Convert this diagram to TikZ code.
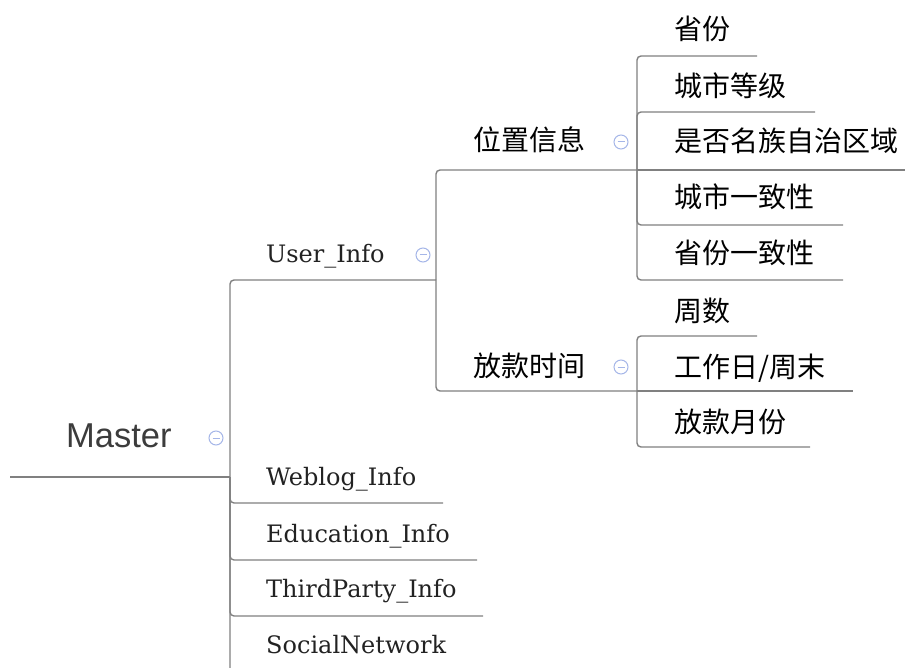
\documentclass[tikz,border=0pt]{standalone}
\usepackage{fontspec}
\newfontfamily\cjk{Noto Sans CJK SC}
\newfontfamily\slab{DejaVu Serif}
\newfontfamily\msans{Liberation Sans}
\definecolor{linegray}{RGB}{128,128,128}
\definecolor{iconblue}{RGB}{165,182,232}
\definecolor{textdark}{RGB}{34,34,34}
\definecolor{rootgray}{RGB}{60,60,60}
\begin{document}
\begin{tikzpicture}[x=1pt,y=-1pt,
  branch/.style={draw=linegray, line width=1.4pt, rounded corners=4pt},
  rootnode/.style={anchor=base west, inner sep=0pt, font=\msans\fontsize{34.5}{34.5}\selectfont, text=rootgray},
  lone/.style={anchor=base west, inner sep=0pt, font=\slab\fontsize{24}{24}\selectfont, text=textdark},
  ltwo/.style={anchor=base west, inner sep=0pt, font=\cjk\fontsize{28}{28}\selectfont, text=black},
  fold/.style={circle, draw=iconblue, fill=white, line width=1pt, minimum size=14pt, inner sep=0pt,
    path picture={\draw[iconblue, line width=1pt] ([xshift=-3.5pt]path picture bounding box.center) -- ([xshift=3.5pt]path picture bounding box.center);}}
]
\useasboundingbox (0,0) rectangle (918,668);
\clip (0,0) rectangle (918,668);

% root
\node[rootnode] (master) at (66,447) {Master};
\node[fold] (mfold) at (216,438) {};
\coordinate (m-s) at (10,477);
\coordinate (m-e) at (230,477);
\draw[branch] (m-s) -- (m-e);

% level 1
\node[lone] (user) at (266,263) {User\_Info};
\node[fold] (ufold) at (423,255) {};
\coordinate (user-e) at (436,280);
\node[lone] (web) at (266,485) {Weblog\_Info};
\coordinate (web-e) at (443,503);
\node[lone] (edu) at (266,542) {Education\_Info};
\coordinate (edu-e) at (477,560);
\node[lone] (tp) at (266,597) {ThirdParty\_Info};
\coordinate (tp-e) at (483,616);
\node[lone] (sn) at (266,653) {SocialNetwork};
\coordinate (sn-e) at (480,676);

\draw[branch] (m-e) |- (user-e);
\draw[branch] (m-e) |- (web-e);
\draw[branch] (m-e) |- (edu-e);
\draw[branch] (m-e) |- (tp-e);
\draw[branch] (m-e) |- (sn-e);

% level 2
\node[ltwo] (pos) at (473,151) {位置信息};
\node[fold] (pfold) at (621,142) {};
\coordinate (pos-e) at (637,170);
\node[ltwo] (loan) at (473,376) {放款时间};
\node[fold] (lfold) at (621,367) {};
\coordinate (loan-e) at (637,391);
\draw[branch] (user-e) |- (pos-e);
\draw[branch] (user-e) |- (loan-e);

% level 3 under 位置信息
\node[ltwo] (p1) at (674,40) {省份};
\coordinate (p1-e) at (757,56);
\node[ltwo] (p2) at (674,97) {城市等级};
\coordinate (p2-e) at (815,112);
\node[ltwo] (p3) at (674,152) {是否名族自治区域};
\coordinate (p3-e) at (905,170);
\node[ltwo] (p4) at (674,208) {城市一致性};
\coordinate (p4-e) at (843,225);
\node[ltwo] (p5) at (674,264) {省份一致性};
\coordinate (p5-e) at (843,280);
\draw[branch] (pos-e) |- (p1-e);
\draw[branch] (pos-e) |- (p2-e);
\draw[branch] (pos-e) -- (p3-e);
\draw[branch] (pos-e) |- (p4-e);
\draw[branch] (pos-e) |- (p5-e);

% level 3 under 放款时间
\node[ltwo] (l1) at (674,321) {周数};
\coordinate (l1-e) at (757,336);
\node[ltwo] (l2) at (674,377) {工作日/周末};
\coordinate (l2-e) at (853,391);
\node[ltwo] (l3) at (674,432) {放款月份};
\coordinate (l3-e) at (810,447);
\draw[branch] (loan-e) |- (l1-e);
\draw[branch] (loan-e) -- (l2-e);
\draw[branch] (loan-e) |- (l3-e);
\end{tikzpicture}
\end{document}
